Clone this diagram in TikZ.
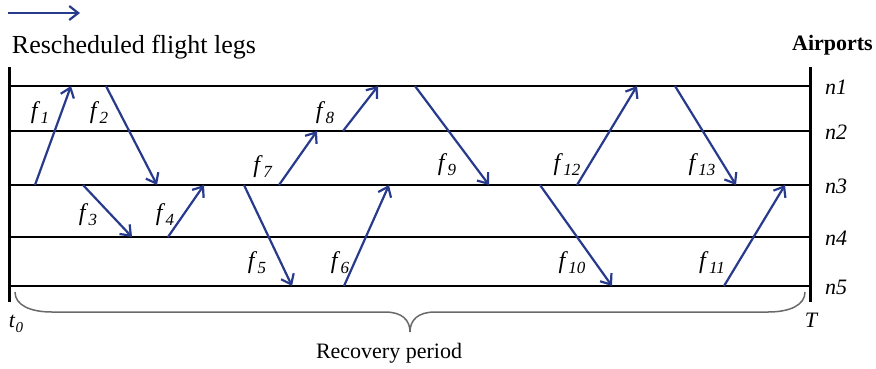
\documentclass[tikz,border=0pt]{standalone}
\usepackage{fontspec}
\setmainfont{Liberation Serif}
\usetikzlibrary{arrows.meta}
\definecolor{legblue}{RGB}{40,58,140}
\definecolor{bracegray}{RGB}{105,105,105}
\newcommand\flab[1]{\textit{f}\kern0.5pt\raisebox{-0.45ex}{\fontsize{17}{17}\selectfont\textit{#1}}}
\begin{document}
\begin{tikzpicture}[x=1pt,y=-1pt,
  leg/.style={legblue, line width=2.2pt, -{Straight Barb[length=9pt,width=14pt,line width=2.2pt]}},
  rowline/.style={black, line width=2.4pt},
  bound/.style={black, line width=3pt},
  flbl/.style={font=\fontsize{24}{24}\selectfont, inner sep=0pt},
  nlbl/.style={font=\fontsize{22}{22}\selectfont\itshape, inner sep=0pt},
  bracestyle/.style={bracegray, line width=1.5pt},
]
\useasboundingbox (0,0) rectangle (876,368);
% rows (airports)
\foreach \n/\yy in {1/86,2/131,3/185,4/237,5/286} {
  \coordinate (L\n) at (9,\yy);
  \coordinate (R\n) at (810,\yy);
  \draw[rowline] (L\n) -- (R\n);
  \node[nlbl, anchor=west] (n\n) at (825,\yy+1) {n\n};
}
% time bounds
\coordinate (lt) at (9,67);
\coordinate (lb) at (9,302);
\coordinate (rt) at (810,67);
\coordinate (rb) at (810,302);
\draw[bound] (lt) -- (lb);
\draw[bound] (rt) -- (rb);
% legend
\coordinate (ka) at (8,13);
\coordinate (kb) at (80,13);
\draw[leg] (ka) -- (kb);
\node[font=\fontsize{26}{26}\selectfont, inner sep=0pt] (title) at (134,47) {Rescheduled flight legs};
\node[font=\fontsize{22}{22}\selectfont\bfseries, inner sep=0pt, anchor=east] (airports) at (873,45) {Airports};
% flight legs
\foreach \i/\xa/\ya/\xb/\yb/\lx/\ly in {
  1/35/185/71/86/40/113,
  2/106/86/157/185/99/113,
  3/83/185/132/237/88/215,
  4/168/237/204/185/165/215,
  5/244/185/292/286/257/263,
  6/344/286/389/185/340/263,
  7/279/185/317/131/263/167,
  8/343/131/378/86/325/113,
  9/415/86/489/185/447/165,
  10/540/185/612/286/572/263,
  11/724/286/785/185/712/263,
  12/577/185/637/86/567/165,
  13/675/86/736/185/702/165} {
  \coordinate (s\i) at (\xa,\ya);
  \coordinate (e\i) at (\xb,\yb);
  \draw[leg] (s\i) -- (e\i);
  \node[flbl] (f\i) at (\lx,\ly) {\flab{\i}};
}
% brace
\coordinate (bs) at (15,292);
\coordinate (tip) at (410,332);
\coordinate (be) at (805,292);
\draw[bracestyle] (bs) .. controls (15,305) and (30,312) .. (52,312)
  -- (385,312) .. controls (402,312) and (410,320) .. (tip)
  .. controls (410,320) and (418,312) .. (435,312)
  -- (768,312) .. controls (790,312) and (805,305) .. (be);
\node[font=\fontsize{22}{22}\selectfont, inner sep=0pt] (rec) at (389,353) {Recovery period};
\node[font=\fontsize{22}{22}\selectfont, inner sep=0pt] (t0) at (16,324) {\textit{t}\raisebox{-0.45ex}{\fontsize{15}{15}\selectfont\textit{0}}};
\node[font=\fontsize{22}{22}\selectfont\itshape, inner sep=0pt] (TT) at (811,320) {T};
\end{tikzpicture}
\end{document}
